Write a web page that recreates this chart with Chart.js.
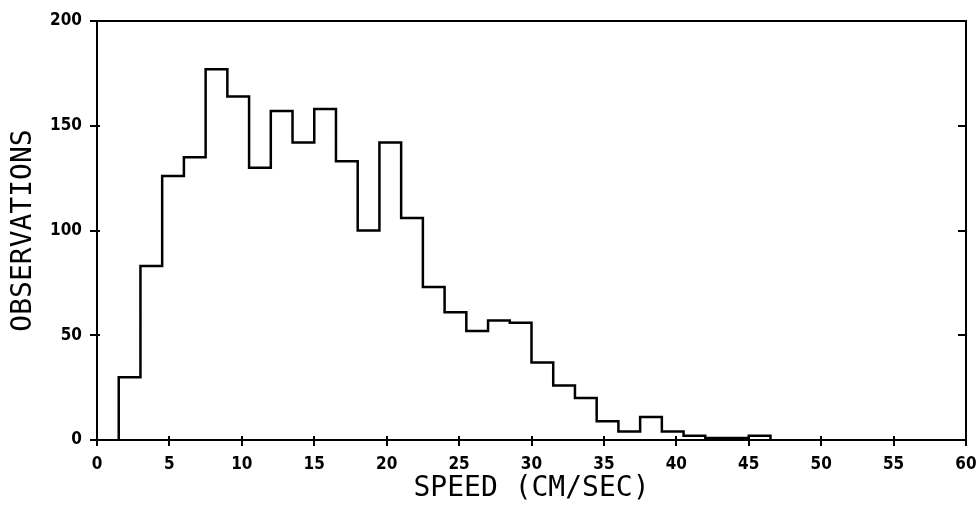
<!DOCTYPE html>
<html>
<head>
<meta charset="utf-8">
<script src="https://cdn.jsdelivr.net/npm/chart.js@4"></script>
<style>
  html, body { margin: 0; padding: 0; background: #fff; }
  #wrap { width: 976px; height: 510px; }
</style>
</head>
<body>
<div id="wrap"><canvas id="speedHist"></canvas></div>
<script>
// bin left edges (cm/sec) and counts per bin; last edge closes the final bin
const binEdges = [1.5, 3, 4.5, 6, 7.5, 9, 10.5, 12, 13.5, 15, 16.5, 18, 19.5, 21, 22.5,
                  24, 25.5, 27, 28.5, 30, 31.5, 33, 34.5, 36, 37.5, 39, 40.5, 42, 43.5, 45, 46.5];
const counts = [30, 83, 126, 135, 177, 164, 130, 157, 142, 158, 133, 100, 142, 106, 73,
                61, 52, 57, 56, 37, 26, 20, 9, 4, 11, 4, 2, 1, 1, 2];
const xTicks = [0, 5, 10, 15, 20, 25, 30, 35, 40, 45, 50, 55, 60];
const yTicks = [0, 50, 100, 150, 200];

// outline points: start on the axis, then each bin's left edge, then back down
const outline = [{x: binEdges[0], y: 0}];
counts.forEach((c, i) => outline.push({x: binEdges[i], y: c}));
outline.push({x: binEdges[binEdges.length - 1], y: 0});

const tickFont = { family: "'DejaVu Sans Condensed', 'DejaVu Sans'", size: 17, weight: 'bold' };
const titleFont = { family: "'DejaVu Sans Mono'", size: 28, lineHeight: 1 };

// drop label overhang so the layout padding alone places the plot box
function noOverhang(s) {
  s.paddingTop = 0; s.paddingBottom = 0; s.paddingLeft = 0; s.paddingRight = 0;
}

const frame = {
  id: 'frame',
  afterDraw(chart) {
    const ctx = chart.ctx;
    const a = chart.chartArea;
    const xs = chart.scales.x, ys = chart.scales.y;
    ctx.save();
    ctx.strokeStyle = '#000';
    ctx.lineWidth = 2;
    ctx.strokeRect(a.left, a.top, a.right - a.left, a.bottom - a.top);
    ctx.beginPath();
    xTicks.forEach(v => {
      const px = Math.round(xs.getPixelForValue(v));
      ctx.moveTo(px, a.bottom - 4);
      ctx.lineTo(px, a.bottom + 6);
    });
    yTicks.forEach(v => {
      const py = Math.round(ys.getPixelForValue(v));
      ctx.moveTo(a.left - 7, py);
      ctx.lineTo(a.left + 3, py);
      if (v > 0 && v < 200) {
        ctx.moveTo(a.right - 8, py);
        ctx.lineTo(a.right, py);
      }
    });
    ctx.stroke();
    ctx.restore();
  }
};

new Chart(document.getElementById('speedHist'), {
  type: 'line',
  data: {
    datasets: [{
      data: outline,
      stepped: 'before',
      borderColor: '#000',
      borderWidth: 2.5,
      pointRadius: 0,
      fill: false
    }]
  },
  options: {
    responsive: true,
    maintainAspectRatio: false,
    animation: false,
    layout: { padding: { top: 21, right: 10, left: 0, bottom: 0 } },
    plugins: { legend: { display: false }, tooltip: { enabled: false } },
    scales: {
      x: {
        type: 'linear',
        min: 0, max: 60,
        afterBuildTicks: s => { s.ticks = xTicks.map(v => ({ value: v })); },
        afterFit: s => { s.height = 70; noOverhang(s); },
        grid: { display: false },
        border: { display: false },
        ticks: { color: '#000', font: tickFont, padding: 6, maxRotation: 0 },
        title: { display: true, text: 'SPEED (CM/SEC)', color: '#000', font: titleFont,
                 padding: { top: 0, bottom: 7 } }
      },
      y: {
        min: 0, max: 200,
        afterBuildTicks: s => { s.ticks = yTicks.map(v => ({ value: v })); },
        afterFit: s => { s.width = 97; noOverhang(s); },
        grid: { display: false },
        border: { display: false },
        ticks: { color: '#000', font: tickFont, padding: 7 },
        title: { display: true, text: 'OBSERVATIONS', color: '#000', font: titleFont,
                 padding: { top: 10, bottom: 0 } }
      }
    }
  },
  plugins: [frame]
});
</script>
</body>
</html>
